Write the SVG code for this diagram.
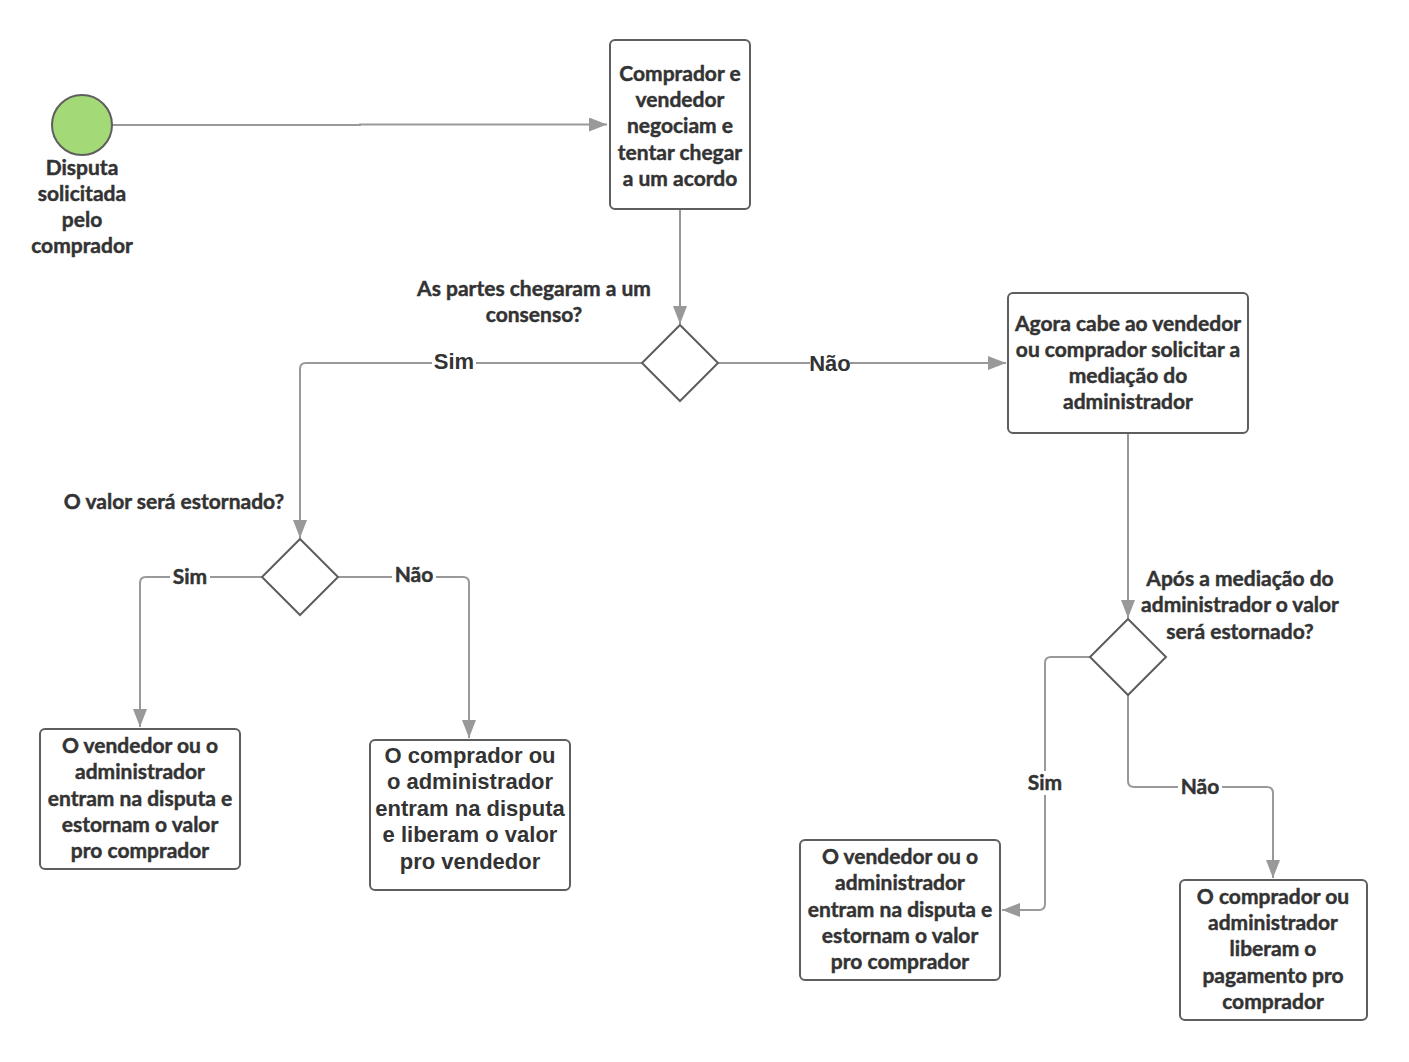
<svg xmlns="http://www.w3.org/2000/svg" width="1409" height="1062" viewBox="0 0 1409 1062">
<style>
.box{fill:#fff;stroke:#5e5e5e;stroke-width:2}
.dia{fill:#fff;stroke:#5e5e5e;stroke-width:2}
.t{font-family:Lato,"Liberation Sans",sans-serif;font-weight:bold;font-size:21px;fill:#333;stroke:#333;stroke-width:0.45;text-anchor:middle}
.a{font-family:"Liberation Sans",Arial,sans-serif;font-weight:bold;font-size:22px;fill:#333;text-anchor:middle}
.c{fill:none;stroke:#999;stroke-width:2}
.lb{fill:#fff}
</style>
<defs>
<marker id="ar" markerWidth="20" markerHeight="14" viewBox="0 0 20 14" refX="18" refY="7" orient="auto" markerUnits="userSpaceOnUse">
<path d="M0,0 L18,7 L0,14 Z" fill="#999"/>
</marker>
</defs>
<rect width="1409" height="1062" fill="#fff"/>
<g id="connectors">
<path class="c" d="M112,125 L360,125 L360,124.5 L607,124.5" marker-end="url(#ar)"/>
<path class="c" d="M680,209 L680,324" marker-end="url(#ar)"/>
<path class="c" d="M642,363 L306,363 Q300,363 300,369 L300,538" marker-end="url(#ar)"/>
<path class="c" d="M718,363 L1006,363" marker-end="url(#ar)"/>
<path class="c" d="M1128,433 L1128,618" marker-end="url(#ar)"/>
<path class="c" d="M262,577 L146,577 Q140,577 140,583 L140,727" marker-end="url(#ar)"/>
<path class="c" d="M338,577 L463,577 Q469,577 469,583 L469,738" marker-end="url(#ar)"/>
<path class="c" d="M1090,657 L1051,657 Q1045,657 1045,663 L1045,904 Q1045,910 1039,910 L1002,910" marker-end="url(#ar)"/>
<path class="c" d="M1128,695 L1128,781 Q1128,787 1134,787 L1267,787 Q1273,787 1273,793 L1273,878" marker-end="url(#ar)"/>
<rect class="lb" x="432" y="350" width="44" height="24"/>
<text class="a" x="454" y="369">Sim</text>
<rect class="lb" x="810" y="350" width="40" height="26"/>
<text class="a" x="830" y="371">Não</text>
<rect class="lb" x="170" y="565" width="40" height="24"/>
<text class="t" x="190" y="584">Sim</text>
<rect class="lb" x="392" y="563" width="44" height="24"/>
<text class="t" x="414" y="582">Não</text>
<rect class="lb" x="1025" y="771" width="40" height="24"/>
<text class="t" x="1045" y="790">Sim</text>
<rect class="lb" x="1178" y="775" width="44" height="24"/>
<text class="t" x="1200" y="794">Não</text>
</g>
<g id="start">
<circle cx="82" cy="125" r="30" fill="#a3d977" stroke="#5e5e5e" stroke-width="2"/>
<text class="t" x="82" y="175">Disputa</text>
<text class="t" x="82" y="201">solicitada</text>
<text class="t" x="82" y="227">pelo</text>
<text class="t" x="82" y="253">comprador</text>
</g>
<g id="negociar">
<rect class="box" x="610" y="40" width="140" height="169" rx="5"/>
<text class="t" x="680" y="81">Comprador e</text>
<text class="t" x="680" y="107">vendedor</text>
<text class="t" x="680" y="133">negociam e</text>
<text class="t" x="680" y="160">tentar chegar</text>
<text class="t" x="680" y="186">a um acordo</text>
</g>
<g id="consenso">
<polygon class="dia" points="680,325 718,363 680,401 642,363"/>
<text class="t" x="534" y="296">As partes chegaram a um</text>
<text class="t" x="534" y="322">consenso?</text>
</g>
<g id="mediacao">
<rect class="box" x="1008" y="293" width="240" height="140" rx="5"/>
<text class="t" x="1128" y="331">Agora cabe ao vendedor</text>
<text class="t" x="1128" y="357">ou comprador solicitar a</text>
<text class="t" x="1128" y="383">mediação do</text>
<text class="t" x="1128" y="409">administrador</text>
</g>
<g id="estornado1">
<polygon class="dia" points="300,539 338,577 300,615 262,577"/>
<text class="t" x="174" y="509">O valor será estornado?</text>
</g>
<g id="estornado2">
<polygon class="dia" points="1128,619 1166,657 1128,695 1090,657"/>
<text class="t" x="1240" y="586">Após a mediação do</text>
<text class="t" x="1240" y="612">administrador o valor</text>
<text class="t" x="1240" y="639">será estornado?</text>
</g>
<g id="estorno1">
<rect class="box" x="40" y="729" width="200" height="140" rx="5"/>
<text class="t" x="140" y="753">O vendedor ou o</text>
<text class="t" x="140" y="779">administrador</text>
<text class="t" x="140" y="806">entram na disputa e</text>
<text class="t" x="140" y="832">estornam o valor</text>
<text class="t" x="140" y="858">pro comprador</text>
</g>
<g id="libera1">
<rect class="box" x="370" y="740" width="200" height="150" rx="5"/>
<text class="a" x="470" y="763">O comprador ou</text>
<text class="a" x="470" y="789">o administrador</text>
<text class="a" x="470" y="816">entram na disputa</text>
<text class="a" x="470" y="842">e liberam o valor</text>
<text class="a" x="470" y="869">pro vendedor</text>
</g>
<g id="estorno2">
<rect class="box" x="800" y="840" width="200" height="140" rx="5"/>
<text class="t" x="900" y="864">O vendedor ou o</text>
<text class="t" x="900" y="890">administrador</text>
<text class="t" x="900" y="917">entram na disputa e</text>
<text class="t" x="900" y="943">estornam o valor</text>
<text class="t" x="900" y="969">pro comprador</text>
</g>
<g id="libera2">
<rect class="box" x="1180" y="880" width="187" height="140" rx="5"/>
<text class="t" x="1273" y="904">O comprador ou</text>
<text class="t" x="1273" y="930">administrador</text>
<text class="t" x="1273" y="956">liberam o</text>
<text class="t" x="1273" y="983">pagamento pro</text>
<text class="t" x="1273" y="1009">comprador</text>
</g>
</svg>
